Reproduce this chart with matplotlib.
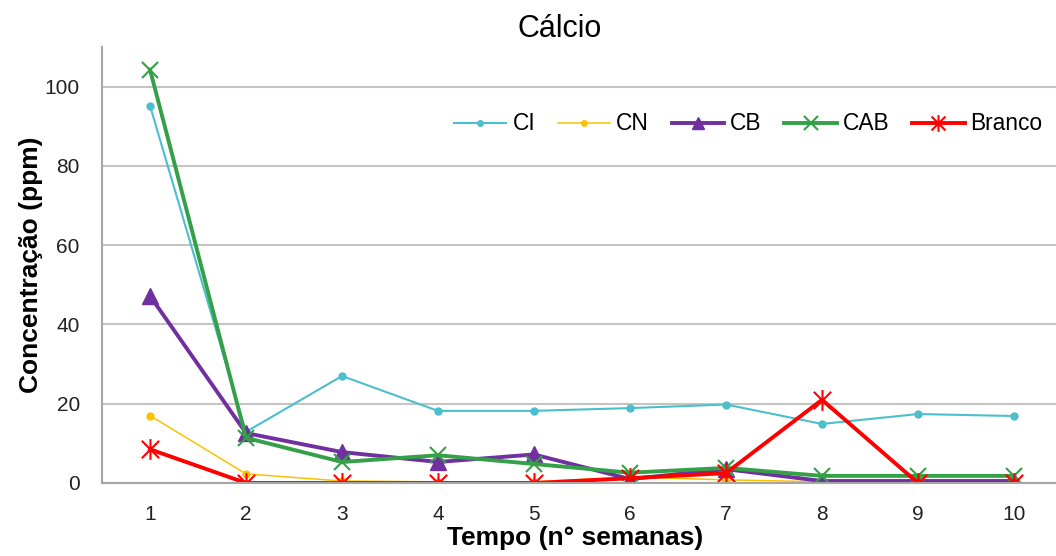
import numpy as np
import matplotlib.pyplot as plt
from matplotlib.path import Path

plt.rcParams['font.family'] = ['Liberation Sans', 'DejaVu Sans']

# ── data ────────────────────────────────────────────────────────────────────
semanas = [1, 2, 3, 4, 5, 6, 7, 8, 9, 10]
ci     = [95.2, 12.9, 27.0, 18.2, 18.2, 18.9, 19.8, 14.9, 17.4, 16.9]
cn     = [17.0, 2.3, 0.5, 0.3, 0.3, 1.5, 0.8, 0.3, 0.2, 0.2]
cb     = [47.2, 12.6, 7.8, 5.3, 7.2, 1.0, 3.5, 0.5, 0.5, 0.5]
cab    = [104.3, 11.4, 5.3, 7.0, 4.8, 2.6, 3.8, 1.8, 1.8, 1.8]
branco = [8.5, 0.0, 0.0, 0.0, 0.0, 1.2, 2.5, 21.0, 0.0, 0.0]

# excel-style star marker: x plus vertical bar
star = Path([(-1, -1), (1, 1), (-1, 1), (1, -1), (0, -1.2), (0, 1.2)],
            [Path.MOVETO, Path.LINETO, Path.MOVETO, Path.LINETO, Path.MOVETO, Path.LINETO])

W, H = 1056, 556
fig = plt.figure(figsize=(W / 100, H / 100), dpi=100)
ax = fig.add_axes([102 / W, 1 - 483 / H, 960 / W, (483 - 47) / H])

ax.plot(semanas, ci, '-o', color='#4BBFCB', lw=1.5, ms=5, label='CI')
ax.plot(semanas, cn, '-o', color='#FFC000', lw=1.1, ms=5, label='CN')
ax.plot(semanas, cb, '-^', color='#7030A0', lw=2.8, ms=11, label='CB')
ax.plot(semanas, cab, '-x', color='#34A048', lw=2.8, ms=12, mew=1.5, label='CAB')
ax.plot(semanas, branco, '-', marker=star, color='#FF0000', lw=2.8, ms=15, mew=1.5, label='Branco')

ax.set_xlim(0.5, 10.5)
ax.set_ylim(0, 110)
ax.set_xticks(semanas)
ax.set_yticks([0, 20, 40, 60, 80, 100])
ax.grid(axis='y', color='#C4C4C4', lw=1.5)
ax.set_axisbelow(True)
for s in ['top', 'right']:
    ax.spines[s].set_visible(False)
for s in ['left', 'bottom']:
    ax.spines[s].set_color('#A6A6A6')
    ax.spines[s].set_linewidth(1.5)
ax.tick_params(axis='both', length=0, labelsize=15, colors='#222222')
ax.tick_params(axis='x', pad=15.5)
ax.tick_params(axis='y', pad=16)

fig.text(560 / W, 1 - 37 / H, 'Cálcio', fontsize=22, ha='center', va='baseline')
ax.set_xlabel('Tempo (n° semanas)', fontsize=19, fontweight='bold', labelpad=1.5)
ax.xaxis.label.set_x((575 - 102) / 960)
ax.set_ylabel('Concentração (ppm)', fontsize=19, fontweight='bold', labelpad=1)

ax.legend(loc='center right', ncol=5, frameon=False, fontsize=16.4,
          bbox_to_anchor=(1054 / W, 1 - 124 / H), bbox_transform=fig.transFigure,
          borderpad=0, handlelength=2.3, columnspacing=1.0,
          handletextpad=0.26, markerscale=0.8)

plt.savefig('out.png', dpi=100)
